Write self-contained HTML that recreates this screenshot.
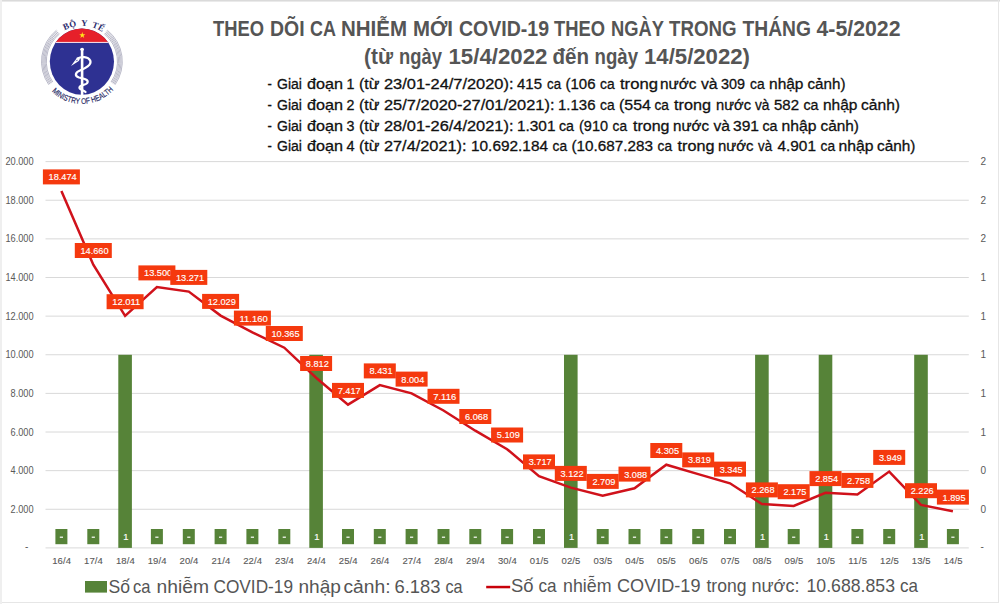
<!DOCTYPE html><html><head><meta charset="utf-8"><style>
html,body{margin:0;padding:0;background:#fff;width:1000px;height:604px;overflow:hidden}
svg{display:block}
text{font-family:"Liberation Sans",sans-serif}
</style></head><body>
<svg width="1000" height="604" viewBox="0 0 1000 604">
<rect x="0" y="0" width="1000" height="604" fill="#fff"/>
<rect x="0" y="0" width="1000" height="1" fill="#DADADA"/>
<rect x="0" y="1" width="1000" height="1" fill="#EAEAEA"/>
<rect x="0" y="0" width="2" height="604" fill="#EFEFEF"/>
<rect x="998" y="0" width="1" height="603" fill="#E6E6E6"/>
<rect x="2" y="602" width="996" height="1" fill="#E6E6E6"/>
<text x="212.99" y="35.9" font-size="22.6" font-weight="bold" fill="#555555" textLength="51.01" lengthAdjust="spacingAndGlyphs">THEO</text>
<text x="269.97" y="35.9" font-size="22.6" font-weight="bold" fill="#555555" textLength="34.56" lengthAdjust="spacingAndGlyphs">DÕI</text>
<text x="310.03" y="35.9" font-size="22.6" font-weight="bold" fill="#555555" textLength="25.95" lengthAdjust="spacingAndGlyphs">CA</text>
<text x="340.97" y="35.9" font-size="22.6" font-weight="bold" fill="#555555" textLength="66.07" lengthAdjust="spacingAndGlyphs">NHIỄM</text>
<text x="412.97" y="35.9" font-size="22.6" font-weight="bold" fill="#555555" textLength="40.04" lengthAdjust="spacingAndGlyphs">MỚI</text>
<text x="459.0" y="35.9" font-size="22.6" font-weight="bold" fill="#555555" textLength="90.0" lengthAdjust="spacingAndGlyphs">COVID-19</text>
<text x="554.0" y="35.9" font-size="22.6" font-weight="bold" fill="#555555" textLength="50.99" lengthAdjust="spacingAndGlyphs">THEO</text>
<text x="611.0" y="35.9" font-size="22.6" font-weight="bold" fill="#555555" textLength="53.0" lengthAdjust="spacingAndGlyphs">NGÀY</text>
<text x="669.0" y="35.9" font-size="22.6" font-weight="bold" fill="#555555" textLength="67.49" lengthAdjust="spacingAndGlyphs">TRONG</text>
<text x="742.5" y="35.9" font-size="22.6" font-weight="bold" fill="#555555" textLength="68.49" lengthAdjust="spacingAndGlyphs">THÁNG</text>
<text x="816.5" y="35.9" font-size="22.6" font-weight="bold" fill="#555555" textLength="83.99" lengthAdjust="spacingAndGlyphs">4-5/2022</text>
<text x="364.03" y="63.5" font-size="21.4" font-weight="bold" fill="#555555" textLength="28.97" lengthAdjust="spacingAndGlyphs">(từ</text>
<text x="399.02" y="63.5" font-size="21.4" font-weight="bold" fill="#555555" textLength="42.98" lengthAdjust="spacingAndGlyphs">ngày</text>
<text x="448.5" y="63.5" font-size="21.4" font-weight="bold" fill="#555555" textLength="99.0" lengthAdjust="spacingAndGlyphs">15/4/2022</text>
<text x="552.49" y="63.5" font-size="21.4" font-weight="bold" fill="#555555" textLength="36.52" lengthAdjust="spacingAndGlyphs">đến</text>
<text x="594.52" y="63.5" font-size="21.4" font-weight="bold" fill="#555555" textLength="43.48" lengthAdjust="spacingAndGlyphs">ngày</text>
<text x="643.99" y="63.5" font-size="21.4" font-weight="bold" fill="#555555" textLength="106.02" lengthAdjust="spacingAndGlyphs">14/5/2022)</text>
<text x="267.62" y="88.6" font-size="15.2" stroke="#111" stroke-width="0.3" fill="#111" textLength="4.36" lengthAdjust="spacingAndGlyphs">-</text>
<text x="277.0" y="88.6" font-size="15.2" stroke="#111" stroke-width="0.3" fill="#111" textLength="24.99" lengthAdjust="spacingAndGlyphs">Giai</text>
<text x="306.99" y="88.6" font-size="15.2" stroke="#111" stroke-width="0.3" fill="#111" textLength="36.02" lengthAdjust="spacingAndGlyphs">đoạn</text>
<text x="346.47" y="88.6" font-size="15.2" stroke="#111" stroke-width="0.3" fill="#111" textLength="7.93" lengthAdjust="spacingAndGlyphs">1</text>
<text x="359.05" y="88.6" font-size="15.2" stroke="#111" stroke-width="0.3" fill="#111" textLength="20.45" lengthAdjust="spacingAndGlyphs">(từ</text>
<text x="384.0" y="88.6" font-size="15.2" stroke="#111" stroke-width="0.3" fill="#111" textLength="129.51" lengthAdjust="spacingAndGlyphs">23/01-24/7/2020):</text>
<text x="517.02" y="88.6" font-size="15.2" stroke="#111" stroke-width="0.3" fill="#111" textLength="24.99" lengthAdjust="spacingAndGlyphs">415</text>
<text x="547.03" y="88.6" font-size="15.2" stroke="#111" stroke-width="0.3" fill="#111" textLength="14.0" lengthAdjust="spacingAndGlyphs">ca</text>
<text x="565.5" y="88.6" font-size="15.2" stroke="#111" stroke-width="0.3" fill="#111" textLength="29.99" lengthAdjust="spacingAndGlyphs">(106</text>
<text x="599.98" y="88.6" font-size="15.2" stroke="#111" stroke-width="0.3" fill="#111" textLength="14.61" lengthAdjust="spacingAndGlyphs">ca</text>
<text x="619.98" y="88.6" font-size="15.2" stroke="#111" stroke-width="0.3" fill="#111" textLength="38.0" lengthAdjust="spacingAndGlyphs">trong</text>
<text x="659.98" y="88.6" font-size="15.2" stroke="#111" stroke-width="0.3" fill="#111" textLength="36.52" lengthAdjust="spacingAndGlyphs">nước</text>
<text x="700.93" y="88.6" font-size="15.2" stroke="#111" stroke-width="0.3" fill="#111" textLength="16.65" lengthAdjust="spacingAndGlyphs">và</text>
<text x="721.01" y="88.6" font-size="15.2" stroke="#111" stroke-width="0.3" fill="#111" textLength="23.96" lengthAdjust="spacingAndGlyphs">309</text>
<text x="750.0" y="88.6" font-size="15.2" stroke="#111" stroke-width="0.3" fill="#111" textLength="14.56" lengthAdjust="spacingAndGlyphs">ca</text>
<text x="769.02" y="88.6" font-size="15.2" stroke="#111" stroke-width="0.3" fill="#111" textLength="34.48" lengthAdjust="spacingAndGlyphs">nhập</text>
<text x="807.51" y="88.6" font-size="15.2" stroke="#111" stroke-width="0.3" fill="#111" textLength="38.0" lengthAdjust="spacingAndGlyphs">cảnh)</text>
<text x="267.62" y="109.6" font-size="15.2" stroke="#111" stroke-width="0.3" fill="#111" textLength="4.36" lengthAdjust="spacingAndGlyphs">-</text>
<text x="277.0" y="109.6" font-size="15.2" stroke="#111" stroke-width="0.3" fill="#111" textLength="24.99" lengthAdjust="spacingAndGlyphs">Giai</text>
<text x="306.99" y="109.6" font-size="15.2" stroke="#111" stroke-width="0.3" fill="#111" textLength="36.02" lengthAdjust="spacingAndGlyphs">đoạn</text>
<text x="346.58" y="109.6" font-size="15.2" stroke="#111" stroke-width="0.3" fill="#111" textLength="7.93" lengthAdjust="spacingAndGlyphs">2</text>
<text x="359.05" y="109.6" font-size="15.2" stroke="#111" stroke-width="0.3" fill="#111" textLength="20.45" lengthAdjust="spacingAndGlyphs">(từ</text>
<text x="383.99" y="109.6" font-size="15.2" stroke="#111" stroke-width="0.3" fill="#111" textLength="170.51" lengthAdjust="spacingAndGlyphs">25/7/2020-27/01/2021):</text>
<text x="558.01" y="109.6" font-size="15.2" stroke="#111" stroke-width="0.3" fill="#111" textLength="37.5" lengthAdjust="spacingAndGlyphs">1.136</text>
<text x="599.98" y="109.6" font-size="15.2" stroke="#111" stroke-width="0.3" fill="#111" textLength="14.61" lengthAdjust="spacingAndGlyphs">ca</text>
<text x="619.0" y="109.6" font-size="15.2" stroke="#111" stroke-width="0.3" fill="#111" textLength="31.99" lengthAdjust="spacingAndGlyphs">(554</text>
<text x="654.55" y="109.6" font-size="15.2" stroke="#111" stroke-width="0.3" fill="#111" textLength="14.42" lengthAdjust="spacingAndGlyphs">ca</text>
<text x="674.0" y="109.6" font-size="15.2" stroke="#111" stroke-width="0.3" fill="#111" textLength="37.0" lengthAdjust="spacingAndGlyphs">trong</text>
<text x="716.02" y="109.6" font-size="15.2" stroke="#111" stroke-width="0.3" fill="#111" textLength="34.97" lengthAdjust="spacingAndGlyphs">nước</text>
<text x="755.03" y="109.6" font-size="15.2" stroke="#111" stroke-width="0.3" fill="#111" textLength="14.49" lengthAdjust="spacingAndGlyphs">và</text>
<text x="774.01" y="109.6" font-size="15.2" stroke="#111" stroke-width="0.3" fill="#111" textLength="24.99" lengthAdjust="spacingAndGlyphs">582</text>
<text x="803.52" y="109.6" font-size="15.2" stroke="#111" stroke-width="0.3" fill="#111" textLength="15.0" lengthAdjust="spacingAndGlyphs">ca</text>
<text x="822.99" y="109.6" font-size="15.2" stroke="#111" stroke-width="0.3" fill="#111" textLength="34.52" lengthAdjust="spacingAndGlyphs">nhập</text>
<text x="861.0" y="109.6" font-size="15.2" stroke="#111" stroke-width="0.3" fill="#111" textLength="39.0" lengthAdjust="spacingAndGlyphs">cảnh)</text>
<text x="267.62" y="130.6" font-size="15.2" stroke="#111" stroke-width="0.3" fill="#111" textLength="4.36" lengthAdjust="spacingAndGlyphs">-</text>
<text x="277.0" y="130.6" font-size="15.2" stroke="#111" stroke-width="0.3" fill="#111" textLength="24.99" lengthAdjust="spacingAndGlyphs">Giai</text>
<text x="306.99" y="130.6" font-size="15.2" stroke="#111" stroke-width="0.3" fill="#111" textLength="36.02" lengthAdjust="spacingAndGlyphs">đoạn</text>
<text x="346.58" y="130.6" font-size="15.2" stroke="#111" stroke-width="0.3" fill="#111" textLength="7.93" lengthAdjust="spacingAndGlyphs">3</text>
<text x="359.05" y="130.6" font-size="15.2" stroke="#111" stroke-width="0.3" fill="#111" textLength="20.45" lengthAdjust="spacingAndGlyphs">(từ</text>
<text x="384.0" y="130.6" font-size="15.2" stroke="#111" stroke-width="0.3" fill="#111" textLength="129.51" lengthAdjust="spacingAndGlyphs">28/01-26/4/2021):</text>
<text x="517.01" y="130.6" font-size="15.2" stroke="#111" stroke-width="0.3" fill="#111" textLength="38.48" lengthAdjust="spacingAndGlyphs">1.301</text>
<text x="559.01" y="130.6" font-size="15.2" stroke="#111" stroke-width="0.3" fill="#111" textLength="14.99" lengthAdjust="spacingAndGlyphs">ca</text>
<text x="579.0" y="130.6" font-size="15.2" stroke="#111" stroke-width="0.3" fill="#111" textLength="28.99" lengthAdjust="spacingAndGlyphs">(910</text>
<text x="612.58" y="130.6" font-size="15.2" stroke="#111" stroke-width="0.3" fill="#111" textLength="14.42" lengthAdjust="spacingAndGlyphs">ca</text>
<text x="633.0" y="130.6" font-size="15.2" stroke="#111" stroke-width="0.3" fill="#111" textLength="36.49" lengthAdjust="spacingAndGlyphs">trong</text>
<text x="673.01" y="130.6" font-size="15.2" stroke="#111" stroke-width="0.3" fill="#111" textLength="35.99" lengthAdjust="spacingAndGlyphs">nước</text>
<text x="713.53" y="130.6" font-size="15.2" stroke="#111" stroke-width="0.3" fill="#111" textLength="16.47" lengthAdjust="spacingAndGlyphs">và</text>
<text x="732.97" y="130.6" font-size="15.2" stroke="#111" stroke-width="0.3" fill="#111" textLength="26.04" lengthAdjust="spacingAndGlyphs">391</text>
<text x="762.49" y="130.6" font-size="15.2" stroke="#111" stroke-width="0.3" fill="#111" textLength="15.01" lengthAdjust="spacingAndGlyphs">ca</text>
<text x="781.51" y="130.6" font-size="15.2" stroke="#111" stroke-width="0.3" fill="#111" textLength="35.0" lengthAdjust="spacingAndGlyphs">nhập</text>
<text x="820.5" y="130.6" font-size="15.2" stroke="#111" stroke-width="0.3" fill="#111" textLength="38.48" lengthAdjust="spacingAndGlyphs">cảnh)</text>
<text x="267.62" y="151.1" font-size="15.2" stroke="#111" stroke-width="0.3" fill="#111" textLength="4.36" lengthAdjust="spacingAndGlyphs">-</text>
<text x="277.0" y="151.1" font-size="15.2" stroke="#111" stroke-width="0.3" fill="#111" textLength="24.99" lengthAdjust="spacingAndGlyphs">Giai</text>
<text x="306.99" y="151.1" font-size="15.2" stroke="#111" stroke-width="0.3" fill="#111" textLength="36.02" lengthAdjust="spacingAndGlyphs">đoạn</text>
<text x="346.38" y="151.1" font-size="15.2" stroke="#111" stroke-width="0.3" fill="#111" textLength="8.09" lengthAdjust="spacingAndGlyphs">4</text>
<text x="359.05" y="151.1" font-size="15.2" stroke="#111" stroke-width="0.3" fill="#111" textLength="20.45" lengthAdjust="spacingAndGlyphs">(từ</text>
<text x="383.99" y="151.1" font-size="15.2" stroke="#111" stroke-width="0.3" fill="#111" textLength="82.51" lengthAdjust="spacingAndGlyphs">27/4/2021):</text>
<text x="471.0" y="151.1" font-size="15.2" stroke="#111" stroke-width="0.3" fill="#111" textLength="77.0" lengthAdjust="spacingAndGlyphs">10.692.184</text>
<text x="552.58" y="151.1" font-size="15.2" stroke="#111" stroke-width="0.3" fill="#111" textLength="14.49" lengthAdjust="spacingAndGlyphs">ca</text>
<text x="571.51" y="151.1" font-size="15.2" stroke="#111" stroke-width="0.3" fill="#111" textLength="81.48" lengthAdjust="spacingAndGlyphs">(10.687.283</text>
<text x="657.58" y="151.1" font-size="15.2" stroke="#111" stroke-width="0.3" fill="#111" textLength="14.42" lengthAdjust="spacingAndGlyphs">ca</text>
<text x="677.48" y="151.1" font-size="15.2" stroke="#111" stroke-width="0.3" fill="#111" textLength="37.0" lengthAdjust="spacingAndGlyphs">trong</text>
<text x="718.01" y="151.1" font-size="15.2" stroke="#111" stroke-width="0.3" fill="#111" textLength="35.5" lengthAdjust="spacingAndGlyphs">nước</text>
<text x="758.0" y="151.1" font-size="15.2" stroke="#111" stroke-width="0.3" fill="#111" textLength="14.0" lengthAdjust="spacingAndGlyphs">và</text>
<text x="777.5" y="151.1" font-size="15.2" stroke="#111" stroke-width="0.3" fill="#111" textLength="38.48" lengthAdjust="spacingAndGlyphs">4.901</text>
<text x="820.58" y="151.1" font-size="15.2" stroke="#111" stroke-width="0.3" fill="#111" textLength="14.49" lengthAdjust="spacingAndGlyphs">ca</text>
<text x="838.45" y="151.1" font-size="15.2" stroke="#111" stroke-width="0.3" fill="#111" textLength="35.09" lengthAdjust="spacingAndGlyphs">nhập</text>
<text x="877.0" y="151.1" font-size="15.2" stroke="#111" stroke-width="0.3" fill="#111" textLength="38.48" lengthAdjust="spacingAndGlyphs">cảnh)</text>
<text x="108.47" y="593.0" font-size="17.8" fill="#555555" textLength="21.53" lengthAdjust="spacingAndGlyphs">Số</text>
<text x="133.05" y="593.0" font-size="17.8" fill="#555555" textLength="17.5" lengthAdjust="spacingAndGlyphs">ca</text>
<text x="156.49" y="593.0" font-size="17.8" fill="#555555" textLength="52.51" lengthAdjust="spacingAndGlyphs">nhiễm</text>
<text x="213.49" y="593.0" font-size="17.8" fill="#555555" textLength="79.51" lengthAdjust="spacingAndGlyphs">COVID-19</text>
<text x="298.49" y="593.0" font-size="17.8" fill="#555555" textLength="42.51" lengthAdjust="spacingAndGlyphs">nhập</text>
<text x="343.46" y="593.0" font-size="17.8" fill="#555555" textLength="47.09" lengthAdjust="spacingAndGlyphs">cảnh:</text>
<text x="394.48" y="593.0" font-size="17.8" fill="#555555" textLength="46.05" lengthAdjust="spacingAndGlyphs">6.183</text>
<text x="445.46" y="593.0" font-size="17.8" fill="#555555" textLength="17.13" lengthAdjust="spacingAndGlyphs">ca</text>
<text x="510.96" y="591.8" font-size="17.8" fill="#555555" textLength="22.55" lengthAdjust="spacingAndGlyphs">Số</text>
<text x="538.46" y="591.8" font-size="17.8" fill="#555555" textLength="18.13" lengthAdjust="spacingAndGlyphs">ca</text>
<text x="563.0" y="591.8" font-size="17.8" fill="#555555" textLength="48.51" lengthAdjust="spacingAndGlyphs">nhiễm</text>
<text x="617.0" y="591.8" font-size="17.8" fill="#555555" textLength="83.51" lengthAdjust="spacingAndGlyphs">COVID-19</text>
<text x="706.49" y="591.8" font-size="17.8" fill="#555555" textLength="40.0" lengthAdjust="spacingAndGlyphs">trong</text>
<text x="751.48" y="591.8" font-size="17.8" fill="#555555" textLength="48.05" lengthAdjust="spacingAndGlyphs">nước:</text>
<text x="806.49" y="591.8" font-size="17.8" fill="#555555" textLength="88.51" lengthAdjust="spacingAndGlyphs">10.688.853</text>
<text x="900.07" y="591.8" font-size="17.8" fill="#555555" textLength="17.99" lengthAdjust="spacingAndGlyphs">ca</text>
<rect x="45.5" y="508.77" width="923.3" height="1" fill="#D9D9D9"/>
<rect x="45.5" y="470.14" width="923.3" height="1" fill="#D9D9D9"/>
<rect x="45.5" y="431.51" width="923.3" height="1" fill="#D9D9D9"/>
<rect x="45.5" y="392.88" width="923.3" height="1" fill="#D9D9D9"/>
<rect x="45.5" y="354.25" width="923.3" height="1" fill="#D9D9D9"/>
<rect x="45.5" y="315.62" width="923.3" height="1" fill="#D9D9D9"/>
<rect x="45.5" y="276.99" width="923.3" height="1" fill="#D9D9D9"/>
<rect x="45.5" y="238.36" width="923.3" height="1" fill="#D9D9D9"/>
<rect x="45.5" y="199.73" width="923.3" height="1" fill="#D9D9D9"/>
<rect x="45.5" y="161.10" width="923.3" height="1" fill="#D9D9D9"/>
<rect x="45.5" y="547.40" width="923.3" height="1" fill="#D9D9D9"/>
<text x="28.4" y="549.9" font-size="10" fill="#595959" text-anchor="end">-</text>
<text x="33.6" y="512.8" font-size="10" fill="#595959" text-anchor="end" textLength="23" lengthAdjust="spacingAndGlyphs">2.000</text>
<text x="33.6" y="474.1" font-size="10" fill="#595959" text-anchor="end" textLength="23" lengthAdjust="spacingAndGlyphs">4.000</text>
<text x="33.6" y="435.5" font-size="10" fill="#595959" text-anchor="end" textLength="23" lengthAdjust="spacingAndGlyphs">6.000</text>
<text x="33.6" y="396.9" font-size="10" fill="#595959" text-anchor="end" textLength="23" lengthAdjust="spacingAndGlyphs">8.000</text>
<text x="33.6" y="358.2" font-size="10" fill="#595959" text-anchor="end" textLength="28.2" lengthAdjust="spacingAndGlyphs">10.000</text>
<text x="33.6" y="319.6" font-size="10" fill="#595959" text-anchor="end" textLength="28.2" lengthAdjust="spacingAndGlyphs">12.000</text>
<text x="33.6" y="281.0" font-size="10" fill="#595959" text-anchor="end" textLength="28.2" lengthAdjust="spacingAndGlyphs">14.000</text>
<text x="33.6" y="242.4" font-size="10" fill="#595959" text-anchor="end" textLength="28.2" lengthAdjust="spacingAndGlyphs">16.000</text>
<text x="33.6" y="203.7" font-size="10" fill="#595959" text-anchor="end" textLength="28.2" lengthAdjust="spacingAndGlyphs">18.000</text>
<text x="33.6" y="165.1" font-size="10" fill="#595959" text-anchor="end" textLength="28.2" lengthAdjust="spacingAndGlyphs">20.000</text>
<text x="980.5" y="549.9" font-size="10" fill="#595959">-</text>
<text x="980.5" y="512.8" font-size="10" fill="#595959">0</text>
<text x="980.5" y="474.1" font-size="10" fill="#595959">0</text>
<text x="980.5" y="435.5" font-size="10" fill="#595959">1</text>
<text x="980.5" y="396.9" font-size="10" fill="#595959">1</text>
<text x="980.5" y="358.2" font-size="10" fill="#595959">1</text>
<text x="980.5" y="319.6" font-size="10" fill="#595959">1</text>
<text x="980.5" y="281.0" font-size="10" fill="#595959">1</text>
<text x="980.5" y="242.4" font-size="10" fill="#595959">2</text>
<text x="980.5" y="203.7" font-size="10" fill="#595959">2</text>
<text x="980.5" y="165.1" font-size="10" fill="#595959">2</text>
<text x="61.6" y="564.2" font-size="9.5" fill="#595959" stroke="#595959" stroke-width="0.12" text-anchor="middle" textLength="18.8" lengthAdjust="spacing">16/4</text>
<text x="93.5" y="564.2" font-size="9.5" fill="#595959" stroke="#595959" stroke-width="0.12" text-anchor="middle" textLength="18.8" lengthAdjust="spacing">17/4</text>
<text x="125.3" y="564.2" font-size="9.5" fill="#595959" stroke="#595959" stroke-width="0.12" text-anchor="middle" textLength="18.8" lengthAdjust="spacing">18/4</text>
<text x="157.1" y="564.2" font-size="9.5" fill="#595959" stroke="#595959" stroke-width="0.12" text-anchor="middle" textLength="18.8" lengthAdjust="spacing">19/4</text>
<text x="189.0" y="564.2" font-size="9.5" fill="#595959" stroke="#595959" stroke-width="0.12" text-anchor="middle" textLength="18.8" lengthAdjust="spacing">20/4</text>
<text x="220.8" y="564.2" font-size="9.5" fill="#595959" stroke="#595959" stroke-width="0.12" text-anchor="middle" textLength="18.8" lengthAdjust="spacing">21/4</text>
<text x="252.6" y="564.2" font-size="9.5" fill="#595959" stroke="#595959" stroke-width="0.12" text-anchor="middle" textLength="18.8" lengthAdjust="spacing">22/4</text>
<text x="284.5" y="564.2" font-size="9.5" fill="#595959" stroke="#595959" stroke-width="0.12" text-anchor="middle" textLength="18.8" lengthAdjust="spacing">23/4</text>
<text x="316.3" y="564.2" font-size="9.5" fill="#595959" stroke="#595959" stroke-width="0.12" text-anchor="middle" textLength="18.8" lengthAdjust="spacing">24/4</text>
<text x="348.2" y="564.2" font-size="9.5" fill="#595959" stroke="#595959" stroke-width="0.12" text-anchor="middle" textLength="18.8" lengthAdjust="spacing">25/4</text>
<text x="380.0" y="564.2" font-size="9.5" fill="#595959" stroke="#595959" stroke-width="0.12" text-anchor="middle" textLength="18.8" lengthAdjust="spacing">26/4</text>
<text x="411.8" y="564.2" font-size="9.5" fill="#595959" stroke="#595959" stroke-width="0.12" text-anchor="middle" textLength="18.8" lengthAdjust="spacing">27/4</text>
<text x="443.7" y="564.2" font-size="9.5" fill="#595959" stroke="#595959" stroke-width="0.12" text-anchor="middle" textLength="18.8" lengthAdjust="spacing">28/4</text>
<text x="475.5" y="564.2" font-size="9.5" fill="#595959" stroke="#595959" stroke-width="0.12" text-anchor="middle" textLength="18.8" lengthAdjust="spacing">29/4</text>
<text x="507.3" y="564.2" font-size="9.5" fill="#595959" stroke="#595959" stroke-width="0.12" text-anchor="middle" textLength="18.8" lengthAdjust="spacing">30/4</text>
<text x="539.2" y="564.2" font-size="9.5" fill="#595959" stroke="#595959" stroke-width="0.12" text-anchor="middle" textLength="18.8" lengthAdjust="spacing">01/5</text>
<text x="571.0" y="564.2" font-size="9.5" fill="#595959" stroke="#595959" stroke-width="0.12" text-anchor="middle" textLength="18.8" lengthAdjust="spacing">02/5</text>
<text x="602.9" y="564.2" font-size="9.5" fill="#595959" stroke="#595959" stroke-width="0.12" text-anchor="middle" textLength="18.8" lengthAdjust="spacing">03/5</text>
<text x="634.7" y="564.2" font-size="9.5" fill="#595959" stroke="#595959" stroke-width="0.12" text-anchor="middle" textLength="18.8" lengthAdjust="spacing">04/5</text>
<text x="666.5" y="564.2" font-size="9.5" fill="#595959" stroke="#595959" stroke-width="0.12" text-anchor="middle" textLength="18.8" lengthAdjust="spacing">05/5</text>
<text x="698.4" y="564.2" font-size="9.5" fill="#595959" stroke="#595959" stroke-width="0.12" text-anchor="middle" textLength="18.8" lengthAdjust="spacing">06/5</text>
<text x="730.2" y="564.2" font-size="9.5" fill="#595959" stroke="#595959" stroke-width="0.12" text-anchor="middle" textLength="18.8" lengthAdjust="spacing">07/5</text>
<text x="762.1" y="564.2" font-size="9.5" fill="#595959" stroke="#595959" stroke-width="0.12" text-anchor="middle" textLength="18.8" lengthAdjust="spacing">08/5</text>
<text x="793.9" y="564.2" font-size="9.5" fill="#595959" stroke="#595959" stroke-width="0.12" text-anchor="middle" textLength="18.8" lengthAdjust="spacing">09/5</text>
<text x="825.7" y="564.2" font-size="9.5" fill="#595959" stroke="#595959" stroke-width="0.12" text-anchor="middle" textLength="18.8" lengthAdjust="spacing">10/5</text>
<text x="857.6" y="564.2" font-size="9.5" fill="#595959" stroke="#595959" stroke-width="0.12" text-anchor="middle" textLength="18.8" lengthAdjust="spacing">11/5</text>
<text x="889.4" y="564.2" font-size="9.5" fill="#595959" stroke="#595959" stroke-width="0.12" text-anchor="middle" textLength="18.8" lengthAdjust="spacing">12/5</text>
<text x="921.2" y="564.2" font-size="9.5" fill="#595959" stroke="#595959" stroke-width="0.12" text-anchor="middle" textLength="18.8" lengthAdjust="spacing">13/5</text>
<text x="953.1" y="564.2" font-size="9.5" fill="#595959" stroke="#595959" stroke-width="0.12" text-anchor="middle" textLength="18.8" lengthAdjust="spacing">14/5</text>
<rect x="118.3" y="354.8" width="13.6" height="193.1" fill="#568338"/>
<rect x="309.3" y="354.8" width="13.6" height="193.1" fill="#568338"/>
<rect x="564.0" y="354.8" width="13.6" height="193.1" fill="#568338"/>
<rect x="755.1" y="354.8" width="13.6" height="193.1" fill="#568338"/>
<rect x="818.7" y="354.8" width="13.6" height="193.1" fill="#568338"/>
<rect x="914.2" y="354.8" width="13.6" height="193.1" fill="#568338"/>
<rect x="55.4" y="529" width="12" height="15.2" fill="#568338"/>
<rect x="59.8" y="536.6" width="3.2" height="1.2" fill="#fff"/>
<rect x="87.3" y="529" width="12" height="15.2" fill="#568338"/>
<rect x="91.7" y="536.6" width="3.2" height="1.2" fill="#fff"/>
<text x="125.9" y="540.1" font-size="9.4" fill="#fff" stroke="#fff" stroke-width="0.15" text-anchor="middle">1</text>
<rect x="150.9" y="529" width="12" height="15.2" fill="#568338"/>
<rect x="155.3" y="536.6" width="3.2" height="1.2" fill="#fff"/>
<rect x="182.8" y="529" width="12" height="15.2" fill="#568338"/>
<rect x="187.2" y="536.6" width="3.2" height="1.2" fill="#fff"/>
<rect x="214.6" y="529" width="12" height="15.2" fill="#568338"/>
<rect x="219.0" y="536.6" width="3.2" height="1.2" fill="#fff"/>
<rect x="246.4" y="529" width="12" height="15.2" fill="#568338"/>
<rect x="250.8" y="536.6" width="3.2" height="1.2" fill="#fff"/>
<rect x="278.3" y="529" width="12" height="15.2" fill="#568338"/>
<rect x="282.7" y="536.6" width="3.2" height="1.2" fill="#fff"/>
<text x="316.9" y="540.1" font-size="9.4" fill="#fff" stroke="#fff" stroke-width="0.15" text-anchor="middle">1</text>
<rect x="342.0" y="529" width="12" height="15.2" fill="#568338"/>
<rect x="346.4" y="536.6" width="3.2" height="1.2" fill="#fff"/>
<rect x="373.8" y="529" width="12" height="15.2" fill="#568338"/>
<rect x="378.2" y="536.6" width="3.2" height="1.2" fill="#fff"/>
<rect x="405.6" y="529" width="12" height="15.2" fill="#568338"/>
<rect x="410.0" y="536.6" width="3.2" height="1.2" fill="#fff"/>
<rect x="437.5" y="529" width="12" height="15.2" fill="#568338"/>
<rect x="441.9" y="536.6" width="3.2" height="1.2" fill="#fff"/>
<rect x="469.3" y="529" width="12" height="15.2" fill="#568338"/>
<rect x="473.7" y="536.6" width="3.2" height="1.2" fill="#fff"/>
<rect x="501.1" y="529" width="12" height="15.2" fill="#568338"/>
<rect x="505.5" y="536.6" width="3.2" height="1.2" fill="#fff"/>
<rect x="533.0" y="529" width="12" height="15.2" fill="#568338"/>
<rect x="537.4" y="536.6" width="3.2" height="1.2" fill="#fff"/>
<text x="571.6" y="540.1" font-size="9.4" fill="#fff" stroke="#fff" stroke-width="0.15" text-anchor="middle">1</text>
<rect x="596.7" y="529" width="12" height="15.2" fill="#568338"/>
<rect x="601.1" y="536.6" width="3.2" height="1.2" fill="#fff"/>
<rect x="628.5" y="529" width="12" height="15.2" fill="#568338"/>
<rect x="632.9" y="536.6" width="3.2" height="1.2" fill="#fff"/>
<rect x="660.3" y="529" width="12" height="15.2" fill="#568338"/>
<rect x="664.7" y="536.6" width="3.2" height="1.2" fill="#fff"/>
<rect x="692.2" y="529" width="12" height="15.2" fill="#568338"/>
<rect x="696.6" y="536.6" width="3.2" height="1.2" fill="#fff"/>
<rect x="724.0" y="529" width="12" height="15.2" fill="#568338"/>
<rect x="728.4" y="536.6" width="3.2" height="1.2" fill="#fff"/>
<text x="762.7" y="540.1" font-size="9.4" fill="#fff" stroke="#fff" stroke-width="0.15" text-anchor="middle">1</text>
<rect x="787.7" y="529" width="12" height="15.2" fill="#568338"/>
<rect x="792.1" y="536.6" width="3.2" height="1.2" fill="#fff"/>
<text x="826.3" y="540.1" font-size="9.4" fill="#fff" stroke="#fff" stroke-width="0.15" text-anchor="middle">1</text>
<rect x="851.4" y="529" width="12" height="15.2" fill="#568338"/>
<rect x="855.8" y="536.6" width="3.2" height="1.2" fill="#fff"/>
<rect x="883.2" y="529" width="12" height="15.2" fill="#568338"/>
<rect x="887.6" y="536.6" width="3.2" height="1.2" fill="#fff"/>
<text x="921.8" y="540.1" font-size="9.4" fill="#fff" stroke="#fff" stroke-width="0.15" text-anchor="middle">1</text>
<rect x="946.9" y="529" width="12" height="15.2" fill="#568338"/>
<rect x="951.3" y="536.6" width="3.2" height="1.2" fill="#fff"/>
<polyline points="61.4,191.1 93.3,264.7 125.1,315.9 156.9,287.1 188.8,291.6 220.6,315.6 252.4,332.3 284.3,347.7 316.1,377.7 348.0,404.6 379.8,385.1 411.6,393.3 443.5,410.5 475.3,430.7 507.1,449.2 539.0,476.1 570.8,487.6 602.7,495.6 634.5,488.3 666.3,464.7 698.2,474.1 730.0,483.3 761.9,504.1 793.7,505.9 825.5,492.8 857.4,494.6 889.2,471.6 921.0,504.9 952.9,511.3" fill="none" stroke="#D0121B" stroke-width="2.5" stroke-linejoin="miter"/>
<rect x="42.9" y="169.4" width="37" height="15" fill="#F5390E"/>
<text x="62.6" y="180.3" font-size="9.9" fill="#fff" stroke="#fff" stroke-width="0.15" text-anchor="middle" textLength="28.2" lengthAdjust="spacingAndGlyphs">18.474</text>
<rect x="74.8" y="243.0" width="37" height="15" fill="#F5390E"/>
<text x="94.5" y="253.9" font-size="9.9" fill="#fff" stroke="#fff" stroke-width="0.15" text-anchor="middle" textLength="28.2" lengthAdjust="spacingAndGlyphs">14.660</text>
<rect x="106.6" y="294.2" width="37" height="15" fill="#F5390E"/>
<text x="126.3" y="305.1" font-size="9.9" fill="#fff" stroke="#fff" stroke-width="0.15" text-anchor="middle" textLength="28.2" lengthAdjust="spacingAndGlyphs">12.011</text>
<rect x="138.4" y="265.4" width="37" height="15" fill="#F5390E"/>
<text x="158.1" y="276.3" font-size="9.9" fill="#fff" stroke="#fff" stroke-width="0.15" text-anchor="middle" textLength="28.2" lengthAdjust="spacingAndGlyphs">13.500</text>
<rect x="170.3" y="269.9" width="37" height="15" fill="#F5390E"/>
<text x="190.0" y="280.8" font-size="9.9" fill="#fff" stroke="#fff" stroke-width="0.15" text-anchor="middle" textLength="28.2" lengthAdjust="spacingAndGlyphs">13.271</text>
<rect x="202.1" y="293.9" width="37" height="15" fill="#F5390E"/>
<text x="221.8" y="304.8" font-size="9.9" fill="#fff" stroke="#fff" stroke-width="0.15" text-anchor="middle" textLength="28.2" lengthAdjust="spacingAndGlyphs">12.029</text>
<rect x="233.9" y="310.6" width="37" height="15" fill="#F5390E"/>
<text x="253.6" y="321.5" font-size="9.9" fill="#fff" stroke="#fff" stroke-width="0.15" text-anchor="middle" textLength="28.2" lengthAdjust="spacingAndGlyphs">11.160</text>
<rect x="265.8" y="326.0" width="37" height="15" fill="#F5390E"/>
<text x="285.5" y="336.9" font-size="9.9" fill="#fff" stroke="#fff" stroke-width="0.15" text-anchor="middle" textLength="28.2" lengthAdjust="spacingAndGlyphs">10.365</text>
<rect x="300.1" y="356.0" width="32" height="15" fill="#F5390E"/>
<text x="317.3" y="366.9" font-size="9.9" fill="#fff" stroke="#fff" stroke-width="0.15" text-anchor="middle" textLength="23" lengthAdjust="spacingAndGlyphs">8.812</text>
<rect x="332.0" y="382.9" width="32" height="15" fill="#F5390E"/>
<text x="349.2" y="393.8" font-size="9.9" fill="#fff" stroke="#fff" stroke-width="0.15" text-anchor="middle" textLength="23" lengthAdjust="spacingAndGlyphs">7.417</text>
<rect x="363.8" y="363.4" width="32" height="15" fill="#F5390E"/>
<text x="381.0" y="374.3" font-size="9.9" fill="#fff" stroke="#fff" stroke-width="0.15" text-anchor="middle" textLength="23" lengthAdjust="spacingAndGlyphs">8.431</text>
<rect x="395.6" y="371.6" width="32" height="15" fill="#F5390E"/>
<text x="412.8" y="382.5" font-size="9.9" fill="#fff" stroke="#fff" stroke-width="0.15" text-anchor="middle" textLength="23" lengthAdjust="spacingAndGlyphs">8.004</text>
<rect x="427.5" y="388.8" width="32" height="15" fill="#F5390E"/>
<text x="444.7" y="399.7" font-size="9.9" fill="#fff" stroke="#fff" stroke-width="0.15" text-anchor="middle" textLength="23" lengthAdjust="spacingAndGlyphs">7.116</text>
<rect x="459.3" y="409.0" width="32" height="15" fill="#F5390E"/>
<text x="476.5" y="419.9" font-size="9.9" fill="#fff" stroke="#fff" stroke-width="0.15" text-anchor="middle" textLength="23" lengthAdjust="spacingAndGlyphs">6.068</text>
<rect x="491.1" y="427.5" width="32" height="15" fill="#F5390E"/>
<text x="508.3" y="438.4" font-size="9.9" fill="#fff" stroke="#fff" stroke-width="0.15" text-anchor="middle" textLength="23" lengthAdjust="spacingAndGlyphs">5.109</text>
<rect x="523.0" y="454.4" width="32" height="15" fill="#F5390E"/>
<text x="540.2" y="465.3" font-size="9.9" fill="#fff" stroke="#fff" stroke-width="0.15" text-anchor="middle" textLength="23" lengthAdjust="spacingAndGlyphs">3.717</text>
<rect x="554.8" y="465.9" width="32" height="15" fill="#F5390E"/>
<text x="572.0" y="476.8" font-size="9.9" fill="#fff" stroke="#fff" stroke-width="0.15" text-anchor="middle" textLength="23" lengthAdjust="spacingAndGlyphs">3.122</text>
<rect x="586.7" y="473.9" width="32" height="15" fill="#F5390E"/>
<text x="603.9" y="484.8" font-size="9.9" fill="#fff" stroke="#fff" stroke-width="0.15" text-anchor="middle" textLength="23" lengthAdjust="spacingAndGlyphs">2.709</text>
<rect x="618.5" y="466.6" width="32" height="15" fill="#F5390E"/>
<text x="635.7" y="477.5" font-size="9.9" fill="#fff" stroke="#fff" stroke-width="0.15" text-anchor="middle" textLength="23" lengthAdjust="spacingAndGlyphs">3.088</text>
<rect x="650.3" y="443.0" width="32" height="15" fill="#F5390E"/>
<text x="667.5" y="453.9" font-size="9.9" fill="#fff" stroke="#fff" stroke-width="0.15" text-anchor="middle" textLength="23" lengthAdjust="spacingAndGlyphs">4.305</text>
<rect x="682.2" y="452.4" width="32" height="15" fill="#F5390E"/>
<text x="699.4" y="463.3" font-size="9.9" fill="#fff" stroke="#fff" stroke-width="0.15" text-anchor="middle" textLength="23" lengthAdjust="spacingAndGlyphs">3.819</text>
<rect x="714.0" y="461.6" width="32" height="15" fill="#F5390E"/>
<text x="731.2" y="472.5" font-size="9.9" fill="#fff" stroke="#fff" stroke-width="0.15" text-anchor="middle" textLength="23" lengthAdjust="spacingAndGlyphs">3.345</text>
<rect x="745.9" y="482.4" width="32" height="15" fill="#F5390E"/>
<text x="763.1" y="493.3" font-size="9.9" fill="#fff" stroke="#fff" stroke-width="0.15" text-anchor="middle" textLength="23" lengthAdjust="spacingAndGlyphs">2.268</text>
<rect x="777.7" y="484.2" width="32" height="15" fill="#F5390E"/>
<text x="794.9" y="495.1" font-size="9.9" fill="#fff" stroke="#fff" stroke-width="0.15" text-anchor="middle" textLength="23" lengthAdjust="spacingAndGlyphs">2.175</text>
<rect x="809.5" y="471.1" width="32" height="15" fill="#F5390E"/>
<text x="826.7" y="482.0" font-size="9.9" fill="#fff" stroke="#fff" stroke-width="0.15" text-anchor="middle" textLength="23" lengthAdjust="spacingAndGlyphs">2.854</text>
<rect x="841.4" y="472.9" width="32" height="15" fill="#F5390E"/>
<text x="858.6" y="483.8" font-size="9.9" fill="#fff" stroke="#fff" stroke-width="0.15" text-anchor="middle" textLength="23" lengthAdjust="spacingAndGlyphs">2.758</text>
<rect x="873.2" y="449.9" width="32" height="15" fill="#F5390E"/>
<text x="890.4" y="460.8" font-size="9.9" fill="#fff" stroke="#fff" stroke-width="0.15" text-anchor="middle" textLength="23" lengthAdjust="spacingAndGlyphs">3.949</text>
<rect x="905.0" y="483.2" width="32" height="15" fill="#F5390E"/>
<text x="922.2" y="494.1" font-size="9.9" fill="#fff" stroke="#fff" stroke-width="0.15" text-anchor="middle" textLength="23" lengthAdjust="spacingAndGlyphs">2.226</text>
<rect x="936.9" y="489.6" width="32" height="15" fill="#F5390E"/>
<text x="954.1" y="500.5" font-size="9.9" fill="#fff" stroke="#fff" stroke-width="0.15" text-anchor="middle" textLength="23" lengthAdjust="spacingAndGlyphs">1.895</text>
<rect x="85" y="581" width="22" height="11.6" fill="#568338"/>
<rect x="486.2" y="585.8" width="24" height="2.5" fill="#C8000A"/>
<g id="logo">
<path d="M52.74,82.02 A35.6,35.6 0 0 1 59.50,33.93" fill="none" stroke="#8a8aa2" stroke-width="0.6"/>
<path d="M51.76,82.71 A36.800000000000004,36.800000000000004 0 0 1 58.74,33.00" fill="none" stroke="#8a8aa2" stroke-width="0.6"/>
<path d="M50.77,83.40 A38.0,38.0 0 0 1 57.99,32.07" fill="none" stroke="#8a8aa2" stroke-width="0.6"/>
<path d="M49.79,84.08 A39.2,39.2 0 0 1 57.23,31.14" fill="none" stroke="#8a8aa2" stroke-width="0.6"/>
<path d="M48.81,84.77 A40.4,40.4 0 0 1 56.48,30.20" fill="none" stroke="#8a8aa2" stroke-width="0.6"/>
<path d="M104.30,33.93 A35.6,35.6 0 0 1 111.06,82.02" fill="none" stroke="#8a8aa2" stroke-width="0.6"/>
<path d="M105.06,33.00 A36.800000000000004,36.800000000000004 0 0 1 112.04,82.71" fill="none" stroke="#8a8aa2" stroke-width="0.6"/>
<path d="M105.81,32.07 A38.0,38.0 0 0 1 113.03,83.40" fill="none" stroke="#8a8aa2" stroke-width="0.6"/>
<path d="M106.57,31.14 A39.2,39.2 0 0 1 114.01,84.08" fill="none" stroke="#8a8aa2" stroke-width="0.6"/>
<path d="M107.32,30.20 A40.4,40.4 0 0 1 114.99,84.77" fill="none" stroke="#8a8aa2" stroke-width="0.6"/>
<ellipse cx="81.9" cy="61.6" rx="32.1" ry="33.2" fill="#2E3192"/>
<clipPath id="lc"><ellipse cx="81.9" cy="61.6" rx="32.1" ry="33.2"/></clipPath>
<g clip-path="url(#lc)">
<rect x="48" y="27" width="70" height="15.2" fill="#E6202A"/>
<rect x="48" y="41.9" width="70" height="1.1" fill="#f2d6e2"/>
</g>
<polygon points="82.30,32.10 83.06,34.25 85.34,34.31 83.54,35.70 84.18,37.89 82.30,36.60 80.42,37.89 81.06,35.70 79.26,34.31 81.54,34.25" fill="#FFE21A"/>
<path d="M82.1,49.5 L82.1,95.5" stroke="#fff" stroke-width="2.6" fill="none"/>
<ellipse cx="82.1" cy="49.3" rx="1.9" ry="1.6" fill="#fff"/>
<path d="M77.5,58.6 C81,56.5 88,56.2 90.2,60.5 C92,65 85,68.5 80,70.5 C75,72.5 74.5,76 79,77.5 C84,79 88.5,79.5 87.5,82.5 C86.5,85.5 80,84.5 79.5,87.5 C79.2,90 83.5,90 85.5,92" fill="none" stroke="#fff" stroke-width="2.3" stroke-linecap="round"/>
<path d="M71,66 L75.5,59.8 Q78.5,57.2 79.8,59.2 Q79.5,61.2 76.5,62.5 Z" fill="#fff"/>
<path d="M75.8,60.8 L77.8,60.2" stroke="#2E3192" stroke-width="0.6"/>
<path id="tarc" d="M51.88,42.10 A35.8,35.8 0 0 1 113.80,45.35" fill="none"/>
<text style="font-family:'Liberation Serif',serif" font-size="8.8" font-weight="bold" fill="#2B2C6E" letter-spacing="0.2" word-spacing="2"><textPath href="#tarc" startOffset="50%" text-anchor="middle">BỘ Y TẾ</textPath></text>
<path id="barc" d="M41.20,73.50 A42.4,42.4 0 0 0 123.09,71.64" fill="none"/>
<text font-size="8.2" fill="#24265f" stroke="#24265f" stroke-width="0.15"><textPath href="#barc" startOffset="50%" text-anchor="middle" textLength="69" lengthAdjust="spacingAndGlyphs">MINISTRY OF HEALTH</textPath></text>
</g>
</svg></body></html>
